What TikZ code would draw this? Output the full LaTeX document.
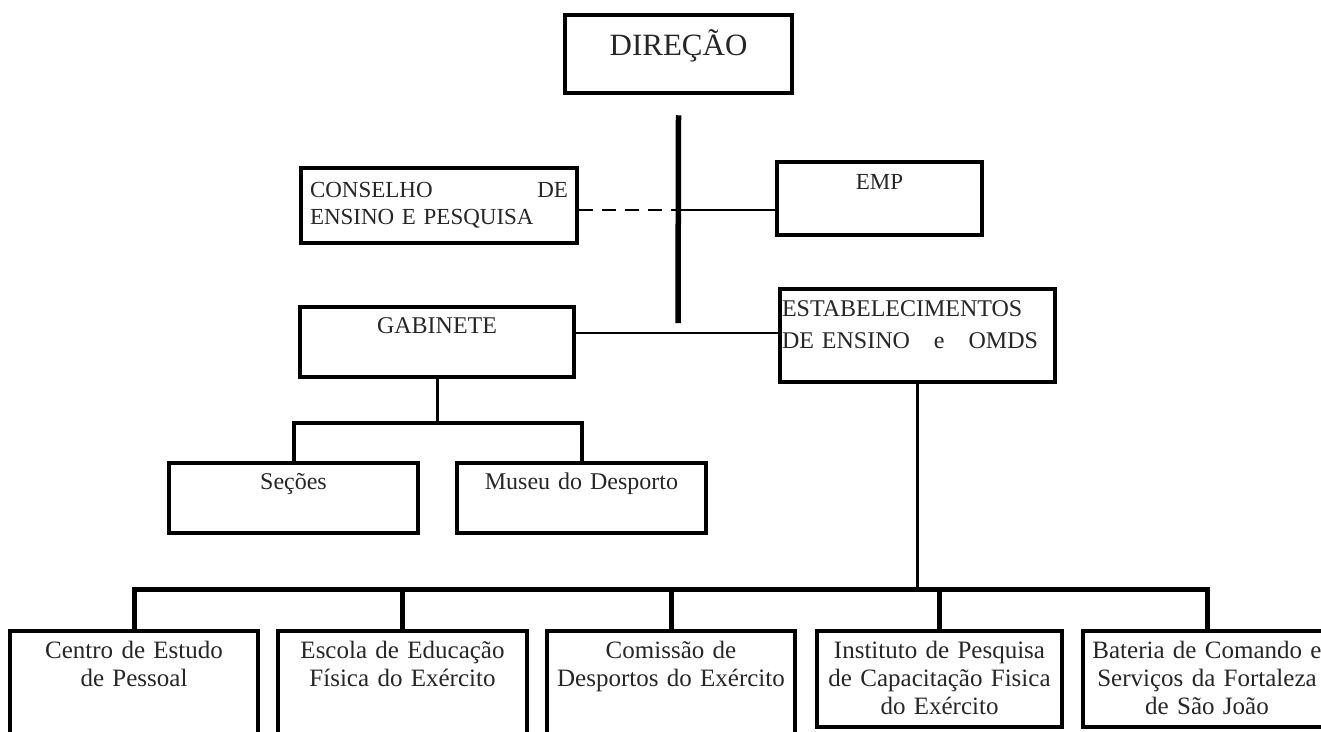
\documentclass[tikz,border=0pt]{standalone}
\usepackage{fontspec}
\setmainfont{Liberation Serif}
\begin{document}
\begin{tikzpicture}[
		x=1pt, y=-1pt,
		office/.style={draw=black, line width=4.5pt, inner sep=0pt, anchor=base, align=center, text=black!85},
		chieffont/.style={font=\fontsize{31}{37}\selectfont},
		staffont/.style={font=\fontsize{24}{27}\selectfont},
		schoolfont/.style={font=\fontsize{25}{28}\selectfont},
		link/.style={line width=2.5pt},
		trunk/.style={line width=5.5pt},
		bus/.style={line width=5pt, line join=miter}
		]
	\path[use as bounding box] (0,0) rectangle (1321,731);
	\clip (0,0) rectangle (1321,731);
	\node [office, chieffont, text width=227pt, text height=40pt, text depth=38pt] (dir) at (678.5,55) {DIREÇÃO};
	\node [office, font=\fontsize{23}{27}\selectfont, align=left, text width=258pt, inner xsep=9pt, text height=29pt, text depth=46pt] (con) at (439,197) {CONSELHO\hfill DE\\ENSINO E PESQUISA};
	\node [office, font=\fontsize{23}{27}\selectfont, text width=205pt, text height=27pt, text depth=46pt] (emp) at (879.5,189) {EMP};
	\node [office, staffont, text width=274pt, text height=26pt, text depth=44pt] (gab) at (437,333) {GABINETE};
	\node [office, font=\fontsize{24}{32}\selectfont, align=left, text width=271pt, inner xsep=2pt, text height=27pt, text depth=66pt] (est) at (917.5,316) {ESTABELECIMENTOS\\DE ENSINO\quad e\quad OMDS};
	\node [office, staffont, text width=249pt, text height=26pt, text depth=44pt] (sec) at (293.5,489) {Seções};
	\node [office, staffont, text width=249pt, text height=26pt, text depth=44pt] (mus) at (581.5,489) {Museu do Desporto};
	\node [office, schoolfont, text width=248pt, text height=27pt, text depth=87pt] (cep) at (134,658) {Centro de Estudo\\de Pessoal};
	\node [office, schoolfont, text width=249pt, text height=27pt, text depth=87pt] (efe) at (402.5,658) {Escola de Educação\\Física do Exército};
	\node [office, schoolfont, text width=248pt, text height=27pt, text depth=87pt] (cde) at (671,658) {Comissão de\\Desportos do Exército};
	\node [office, schoolfont, text width=245pt, text height=27pt, text depth=69pt] (ipc) at (939.5,658) {Instituto de Pesquisa\\de Capacitação Fisica\\do Exército};
	\node [office, schoolfont, text width=248pt, text height=27pt, text depth=69pt] (bcs) at (1207,658) {Bateria de Comando e\\Serviços da Fortaleza\\de São João};
	\coordinate (trtop) at ([yshift=-20pt]dir.south);
	\coordinate (trbot) at (678,323);
	\draw[trunk] (trtop) -- (trbot);
	\coordinate (cjoin) at (678,210);
	\draw[link, dash pattern=on 14pt off 9pt] (con.east |- cjoin) -- (cjoin);
	\draw[link] (cjoin) -- (emp.west |- cjoin);
	\coordinate (gjoin) at (0,333);
	\draw[link] (gab.east |- gjoin) -- (est.west |- gjoin);
	\coordinate (gfork) at (0,423);
	\draw[line width=3pt] (gab.south) -- (gab.south |- gfork);
	\draw[bus, line width=4pt] (sec.north) -- (sec.north |- gfork) -- (mus.north |- gfork) -- (mus.north);
	\coordinate (efork) at (0,589);
	\draw[line width=3pt] (est.south) -- (est.south |- efork);
	\draw[bus] (cep.north) -- (cep.north |- efork) -- (bcs.north |- efork) -- (bcs.north);
	\foreach \n in {efe,cde,ipc}
		\draw[bus] (\n.north) -- (\n.north |- efork);
\end{tikzpicture}
\end{document}
